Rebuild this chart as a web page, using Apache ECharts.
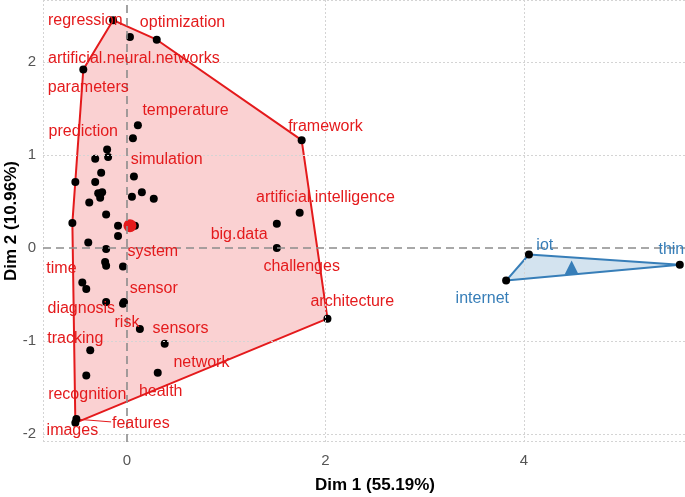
<!DOCTYPE html>
<html><head><meta charset="utf-8">
<script src="https://cdn.jsdelivr.net/npm/echarts@6/dist/echarts.min.js"></script>
<style>html,body{margin:0;padding:0;background:#fff}#c{width:685px;height:497px}</style>
</head><body><div id="c"></div>
<script>
// ---- data ----
const cluster1X = [-0.14, 0.03, 0.30, -0.44, 1.76, 0.11, 0.06, -0.20, -0.32, -0.19,
  -0.26, -0.52, -0.32, 0.07, -0.29, -0.25, -0.27, 0.15, 0.05, 0.27,
  -0.38, -0.21, -0.55, -0.09, 0.08, -0.09, -0.39, -0.21, -0.22, -0.21,
  -0.04, -0.45, -0.41, -0.21, -0.04, -0.03, 0.13, 0.38, -0.37, -0.41,
  0.31, -0.51, -0.52, 1.74, 1.51, 1.51, 2.02];
const cluster1Y = [2.45, 2.27, 2.24, 1.92, 1.16, 1.32, 1.18, 1.06, 0.96, 0.98,
  0.81, 0.71, 0.71, 0.77, 0.59, 0.60, 0.54, 0.60, 0.55, 0.53,
  0.49, 0.36, 0.27, 0.24, 0.24, 0.13, 0.06, -0.01, -0.15, -0.19,
  -0.20, -0.37, -0.44, -0.58, -0.60, -0.58, -0.87, -1.03, -1.10, -1.37,
  -1.34, -1.84, -1.88, 0.38, 0.26, 0.00, -0.76];
const cluster2X = [4.05, 3.82, 5.57];
const cluster2Y = [-0.07, -0.35, -0.18];
const centerX = [0.03, 4.48];
const centerY = [0.24, -0.21];

const cluster1Labels = ['regression','optimization','artificial.neural.networks','parameters',
  'temperature','prediction','framework','simulation','artificial.intelligence','big.data',
  'system','challenges','time','sensor','architecture','diagnosis','risk','sensors',
  'tracking','network','recognition','health','features','images'];
const cluster1LabelX = [-0.42, 0.56, 0.07, -0.39, 0.59, -0.44, 2.00, 0.40, 2.00, 1.13,
  0.26, 1.76, -0.66, 0.27, 2.27, -0.46, 0.00, 0.54, -0.52, 0.75, -0.40, 0.34, 0.14, -0.55];
const cluster1LabelY = [2.45, 2.42, 2.04, 1.73, 1.48, 1.25, 1.31, 0.95, 0.54, 0.14,
  -0.04, -0.20, -0.22, -0.44, -0.58, -0.65, -0.80, -0.87, -0.97, -1.23, -1.58, -1.54, -1.89, -1.96];
const cluster2Labels = ['iot', 'internet', 'things'];
const cluster2LabelX = [4.21, 3.58, 5.57];
const cluster2LabelY = [0.03, -0.54, -0.02];
const repelSegments = [[[-0.51, -1.84], [-0.16, -1.87]]];

const xTicks = [0, 2, 4];
const yTicks = [-2, -1, 0, 1, 2];
const xTitle = 'Dim 1 (55.19%)';
const yTitle = 'Dim 2 (10.96%)';

// ---- styles ----
const RED = '#E41A1C', BLUE = '#377EB8';
const XMIN = -0.846, XMAX = 5.844, YMIN = -2.086, YMAX = 2.667;
const FONT = '"Liberation Sans", Arial, sans-serif';

function zip(xs, ys) { return xs.map((x, i) => [x, ys[i]]); }
function hull(pts) {
  const p = pts.slice().sort((a, b) => a[0] - b[0] || a[1] - b[1]);
  const cross = (o, a, b) => (a[0]-o[0])*(b[1]-o[1]) - (a[1]-o[1])*(b[0]-o[0]);
  const lo = [], up = [];
  for (const q of p) { while (lo.length >= 2 && cross(lo[lo.length-2], lo[lo.length-1], q) <= 0) lo.pop(); lo.push(q); }
  for (let i = p.length - 1; i >= 0; i--) { const q = p[i]; while (up.length >= 2 && cross(up[up.length-2], up[up.length-1], q) <= 0) up.pop(); up.push(q); }
  lo.pop(); up.pop();
  return lo.concat(up);
}
const c1 = zip(cluster1X, cluster1Y), c2 = zip(cluster2X, cluster2Y);
const hulls = [{ pts: hull(c1), color: RED, fill: 'rgba(228,26,28,0.2)' },
               { pts: hull(c2), color: BLUE, fill: 'rgba(55,126,184,0.22)' }];

function polySeries(h) {
  return {
    type: 'custom', silent: true, z: 1, clip: true, data: [[0, 0]],
    renderItem: (params, api) => ({
      type: 'polygon',
      shape: { points: h.pts.map(p => api.coord(p)) },
      style: { fill: h.fill, stroke: h.color, lineWidth: 2, lineJoin: 'round' }
    })
  };
}
function labelSeries(names, xs, ys, color) {
  return {
    type: 'custom', silent: true, z: 5, clip: false,
    data: xs.map((x, i) => [x, ys[i], i]),
    renderItem: (params, api) => {
      const pt = api.coord([api.value(0), api.value(1)]);
      return { type: 'text', x: pt[0], y: pt[1],
        style: { text: names[api.value(2)], fill: color, font: '16px ' + FONT,
                 align: 'center', verticalAlign: 'middle' } };
    }
  };
}
const gridLineStyle = { color: '#d4d4d4', type: [2, 2], width: 1 };
const zeroLineStyle = { color: '#8c8c8c', type: [8, 5], width: 1.6 };
const dot = { color: '#000', opacity: 1 };

const option = {
  animation: false,
  backgroundColor: '#fff',
  grid: { left: 43, top: 0, width: 664, height: 442, show: false, outerBoundsMode: 'none', containLabel: false },
  xAxis: {
    type: 'value', min: XMIN, max: XMAX,
    name: xTitle, nameLocation: 'middle', nameGap: 35, nameMoveOverlap: false,
    nameTextStyle: { color: '#000', fontWeight: 'bold', fontSize: 17, fontFamily: FONT },
    axisLine: { show: false }, axisTick: { show: false }, splitLine: { show: false },
    axisLabel: { customValues: xTicks, color: '#555', fontSize: 15, fontFamily: FONT, margin: 11,
                 formatter: v => String(v) }
  },
  yAxis: {
    type: 'value', min: YMIN, max: YMAX,
    name: yTitle, nameLocation: 'middle', nameGap: 23, nameRotate: 90, nameMoveOverlap: false,
    nameTextStyle: { color: '#000', fontWeight: 'bold', fontSize: 17, fontFamily: FONT },
    axisLine: { show: false }, axisTick: { show: false }, splitLine: { show: false },
    axisLabel: { customValues: yTicks, color: '#555', fontSize: 15, fontFamily: FONT, margin: 7,
                 formatter: v => String(v) }
  },
  series: [
    {
      type: 'scatter', data: [], silent: true, clip: false, z: 0,
      markLine: {
        silent: true, symbol: 'none', label: { show: false }, animation: false,
        data: xTicks.filter(v => v !== 0).map(v => ({ xAxis: v, lineStyle: gridLineStyle }))
          .concat(yTicks.filter(v => v !== 0).map(v => ({ yAxis: v, lineStyle: gridLineStyle })))
          .concat([{ xAxis: XMIN + 0.004, lineStyle: gridLineStyle },
                   { yAxis: YMAX - 0.006, lineStyle: gridLineStyle },
                   { yAxis: YMIN + 0.006, lineStyle: gridLineStyle }])
      }
    },
    polySeries(hulls[0]),
    polySeries(hulls[1]),
    {
      type: 'scatter', data: [], silent: true, clip: false, z: 2,
      markLine: {
        silent: true, symbol: 'none', label: { show: false }, animation: false,
        data: [{ xAxis: 0, lineStyle: zeroLineStyle }, { yAxis: 0, lineStyle: zeroLineStyle }]
      }
    },
    {
      type: 'custom', silent: true, z: 3, clip: false, data: repelSegments.map((s, i) => [i]),
      renderItem: (params, api) => {
        const s = repelSegments[api.value(0)];
        const a = api.coord(s[0]), b = api.coord(s[1]);
        return { type: 'line', shape: { x1: a[0], y1: a[1], x2: b[0], y2: b[1] },
                 style: { stroke: RED, lineWidth: 1 } };
      }
    },
    { type: 'scatter', data: c1, symbolSize: 8, itemStyle: dot, z: 4, silent: true },
    { type: 'scatter', data: c2, symbolSize: 8, itemStyle: dot, z: 4, silent: true },
    { type: 'scatter', data: [[centerX[0], centerY[0]]], symbolSize: 13, itemStyle: { color: RED, opacity: 1 }, z: 4, silent: true },
    { type: 'scatter', data: [[centerX[1], centerY[1]]], symbol: 'triangle', symbolSize: 14, itemStyle: { color: BLUE, opacity: 1 }, z: 4, silent: true },
    labelSeries(cluster1Labels, cluster1LabelX, cluster1LabelY, RED),
    labelSeries(cluster2Labels, cluster2LabelX, cluster2LabelY, BLUE)
  ]
};
const chart = echarts.init(document.getElementById('c'), null, { renderer: 'canvas' });
chart.setOption(option);
</script>
</body></html>
